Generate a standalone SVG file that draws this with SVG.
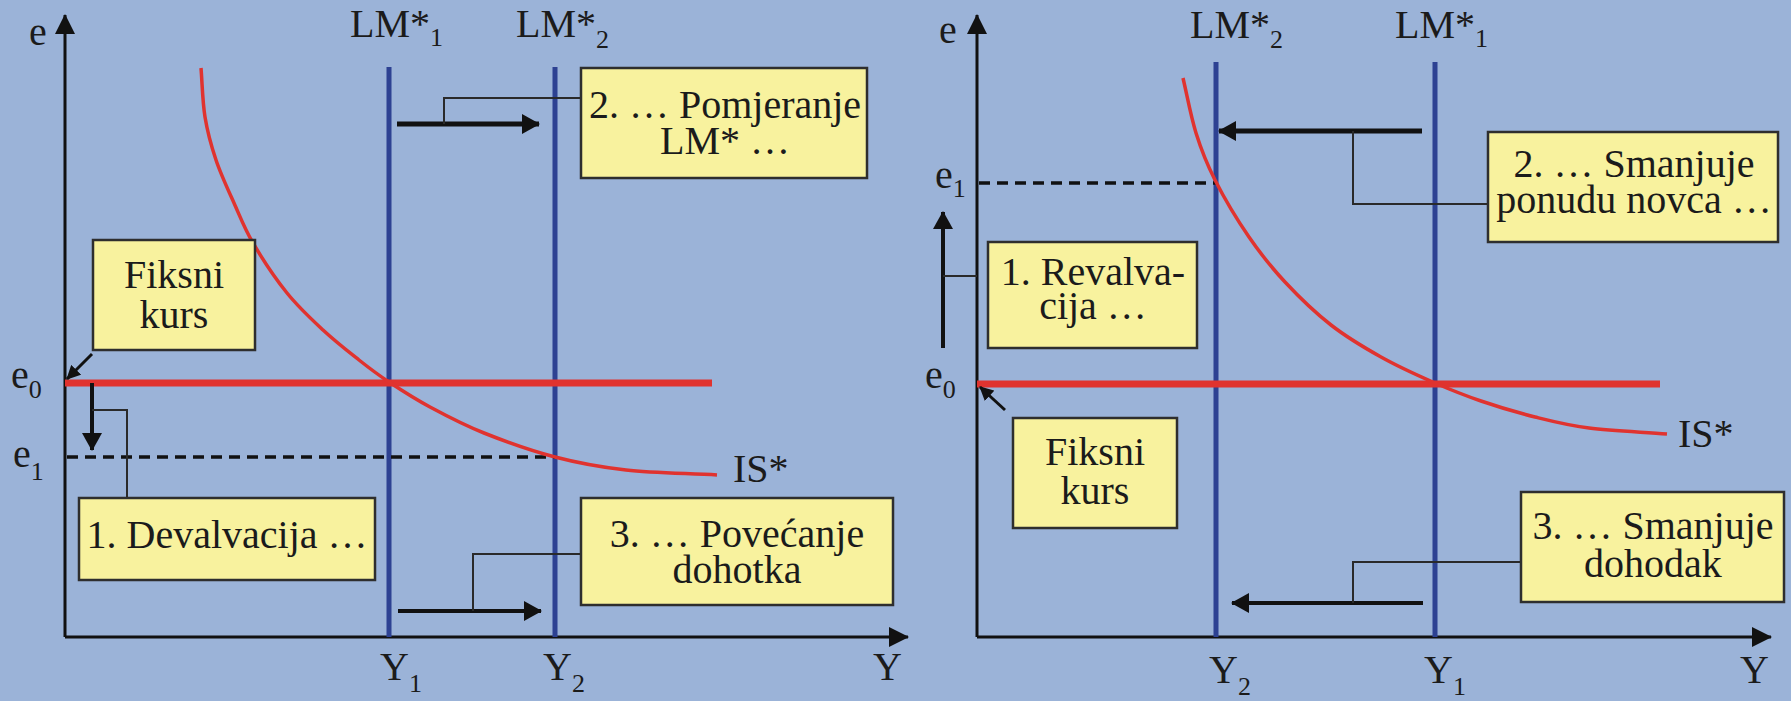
<svg xmlns="http://www.w3.org/2000/svg" width="1791" height="701" viewBox="0 0 1791 701" font-family="'Liberation Serif', 'DejaVu Serif', serif">
<defs>
<style>
text{font-family:"Liberation Serif","DejaVu Serif",serif}
.t{font-size:40px;fill:#1b1b1b}
.sub{font-size:26px}
.box{fill:#F8F29E;stroke:#2e2e2e;stroke-width:2.5}
.axis{stroke:#111;stroke-width:3;fill:none}
.lm{stroke:#2D4192;stroke-width:5}
.e0{stroke:#E0332F;stroke-width:7}
.is{stroke:#E0332F;stroke-width:3.5;fill:none}
.dash{stroke:#111;stroke-width:3.5;stroke-dasharray:11 7}
.conn{stroke:#2a2a2a;stroke-width:2;fill:none}
.big{stroke:#111;stroke-width:5;fill:none}
.thin{stroke:#111;stroke-width:3;fill:none}
</style>
<marker id="ah" viewBox="0 0 18 20" refX="17" refY="10" markerWidth="18" markerHeight="20" markerUnits="userSpaceOnUse" orient="auto"><path d="M0,0 L18,10 L0,20 z" fill="#111"/></marker>
<marker id="ax" viewBox="0 0 20 20" refX="19" refY="10" markerWidth="20" markerHeight="20" markerUnits="userSpaceOnUse" orient="auto"><path d="M0,0 L20,10 L0,20 z" fill="#111"/></marker>
<marker id="sm" viewBox="0 0 14 14" refX="13" refY="7" markerWidth="14" markerHeight="14" markerUnits="userSpaceOnUse" orient="auto"><path d="M0,0 L14,7 L0,14 z" fill="#111"/></marker>
</defs>
<rect width="1791" height="701" fill="#9BB3D8"/>

<!-- LEFT PANEL -->
<g id="left-axes">
<line class="axis" x1="65" y1="637" x2="65" y2="15" marker-end="url(#ax)"/>
<line class="axis" x1="65" y1="637" x2="908" y2="637" marker-end="url(#ax)"/>
<text class="t" x="29" y="45">e</text>
<text class="t" x="11" y="388">e<tspan class="sub" dy="10">0</tspan></text>
<text class="t" x="13" y="467">e<tspan class="sub" dy="13">1</tspan></text>
<text class="t" x="873" y="680">Y</text>
</g>
<g id="left-lm1">
<line class="lm" x1="389" y1="67" x2="389" y2="637"/>
<text class="t" x="350" y="37">LM*<tspan class="sub" dy="9">1</tspan></text>
<text class="t" x="380" y="680">Y<tspan class="sub" dy="12">1</tspan></text>
</g>
<g id="left-lm2">
<line class="lm" x1="555" y1="67" x2="555" y2="637"/>
<text class="t" x="516" y="37">LM*<tspan class="sub" dy="11">2</tspan></text>
<text class="t" x="543" y="680">Y<tspan class="sub" dy="12">2</tspan></text>
</g>
<g id="left-e0">
<line class="e0" x1="65" y1="383" x2="712" y2="383"/>
</g>
<g id="left-e1">
<line class="dash" x1="67" y1="457" x2="555" y2="457"/>
</g>
<g id="left-is">
<path class="is" d="M201,68 C202.3,84.3 202.5,101.7 205,117 C207.5,132.3 211.2,145.7 216,160 C220.8,174.3 227.8,189.2 234,203 C240.2,216.8 244.2,228 253,243 C261.8,258 275.3,278.5 287,293 C298.7,307.5 311,318.8 323,330 C335,341.2 348,351.3 359,360 C370,368.7 377.2,374.2 389,382 C400.8,389.8 414.2,398.5 430,407 C445.8,415.5 463.2,424.7 484,433 C504.8,441.3 531.3,450.8 555,457 C578.7,463.2 599,467 626,470 C653,473 686.7,473.3 717,475"/>
<text class="t" x="733" y="482">IS*</text>
</g>

<g id="left-connectors">
<line class="thin" x1="92" y1="354" x2="67" y2="379" marker-end="url(#sm)"/>
<line class="big" x1="92" y1="383" x2="92" y2="450" marker-end="url(#ah)" style="stroke-width:4"/>
<line class="big" x1="397" y1="124" x2="539" y2="124" marker-end="url(#ah)"/>
<line class="big" x1="398" y1="611" x2="541" y2="611" marker-end="url(#ah)" style="stroke-width:4"/>
<polyline class="conn" points="92,410 127,410 127,498"/>
<polyline class="conn" points="444,124 444,98 581,98"/>
<polyline class="conn" points="473,611 473,554 581,554"/>
</g>

<g id="left-fiksni">
<rect class="box" x="93" y="240" width="162" height="110"/>
<text class="t" x="174" y="288" text-anchor="middle">Fiksni</text>
<text class="t" x="174" y="328" text-anchor="middle">kurs</text>
</g>
<g id="left-box2">
<rect class="box" x="581" y="68" width="286" height="110"/>
<text class="t" x="725" y="118" text-anchor="middle">2. … Pomjeranje</text>
<text class="t" x="725" y="154" text-anchor="middle">LM* …</text>
</g>
<g id="left-box1">
<rect class="box" x="79" y="498" width="296" height="82"/>
<text class="t" x="227" y="548" text-anchor="middle">1. Devalvacija …</text>
</g>
<g id="left-box3">
<rect class="box" x="581" y="498" width="312" height="107"/>
<text class="t" x="737" y="547" text-anchor="middle">3. … Povećanje</text>
<text class="t" x="737" y="583" text-anchor="middle">dohotka</text>
</g>

<!-- RIGHT PANEL -->
<g id="right-axes">
<line class="axis" x1="977" y1="637" x2="977" y2="15" marker-end="url(#ax)"/>
<line class="axis" x1="977" y1="637" x2="1771" y2="637" marker-end="url(#ax)"/>
<text class="t" x="939" y="43">e</text>
<text class="t" x="935" y="188">e<tspan class="sub" dy="9">1</tspan></text>
<text class="t" x="925" y="388">e<tspan class="sub" dy="10">0</tspan></text>
<text class="t" x="1740" y="683">Y</text>
</g>
<g id="right-lm2">
<line class="lm" x1="1216" y1="62" x2="1216" y2="637"/>
<text class="t" x="1190" y="38">LM*<tspan class="sub" dy="10">2</tspan></text>
<text class="t" x="1209" y="683">Y<tspan class="sub" dy="12">2</tspan></text>
</g>
<g id="right-lm1">
<line class="lm" x1="1435" y1="62" x2="1435" y2="637"/>
<text class="t" x="1395" y="38">LM*<tspan class="sub" dy="9">1</tspan></text>
<text class="t" x="1424" y="683">Y<tspan class="sub" dy="12">1</tspan></text>
</g>
<g id="right-e0">
<line class="e0" x1="977" y1="384" x2="1660" y2="384"/>
</g>
<g id="right-e1">
<line class="dash" x1="979" y1="183" x2="1216" y2="183"/>
</g>
<g id="right-is">
<path class="is" d="M1183,78 C1187.3,96.3 1190.7,116 1196,133 C1201.3,150 1206.2,162.7 1215,180 C1223.8,197.3 1237.3,220 1249,237 C1260.7,254 1271.3,267.3 1285,282 C1298.7,296.7 1315,312.5 1331,325 C1347,337.5 1363.7,347.3 1381,357 C1398.3,366.7 1418.3,375.7 1435,383 C1451.7,390.3 1464.3,395.3 1481,401 C1497.7,406.7 1517,412.5 1535,417 C1553,421.5 1567,425.2 1589,428 C1611,430.8 1641,432 1667,434"/>
<text class="t" x="1678" y="447">IS*</text>
</g>

<g id="right-connectors">
<line class="thin" x1="1005" y1="410" x2="980" y2="387" marker-end="url(#sm)"/>
<line class="big" x1="943" y1="348" x2="943" y2="212" marker-end="url(#ah)" style="stroke-width:4"/>
<line class="big" x1="1422" y1="131" x2="1219" y2="131" marker-end="url(#ah)"/>
<line class="big" x1="1423" y1="603" x2="1232" y2="603" marker-end="url(#ah)" style="stroke-width:4"/>
<polyline class="conn" points="943,276 977,276"/>
<polyline class="conn" points="1353,131 1353,204 1488,204"/>
<polyline class="conn" points="1353,603 1353,562 1521,562"/>
</g>

<g id="right-box1">
<rect class="box" x="988" y="242" width="209" height="106"/>
<text class="t" x="1093" y="285" text-anchor="middle">1. Revalva-</text>
<text class="t" x="1093" y="319" text-anchor="middle">cija …</text>
</g>
<g id="right-box2">
<rect class="box" x="1488" y="132" width="290" height="110"/>
<text class="t" x="1634" y="177" text-anchor="middle">2. … Smanjuje</text>
<text class="t" x="1634" y="213" text-anchor="middle">ponudu novca …</text>
</g>
<g id="right-fiksni">
<rect class="box" x="1013" y="418" width="164" height="110"/>
<text class="t" x="1095" y="465" text-anchor="middle">Fiksni</text>
<text class="t" x="1095" y="504" text-anchor="middle">kurs</text>
</g>
<g id="right-box3">
<rect class="box" x="1521" y="492" width="263" height="110"/>
<text class="t" x="1653" y="539" text-anchor="middle">3. … Smanjuje</text>
<text class="t" x="1653" y="577" text-anchor="middle">dohodak</text>
</g>
</svg>
